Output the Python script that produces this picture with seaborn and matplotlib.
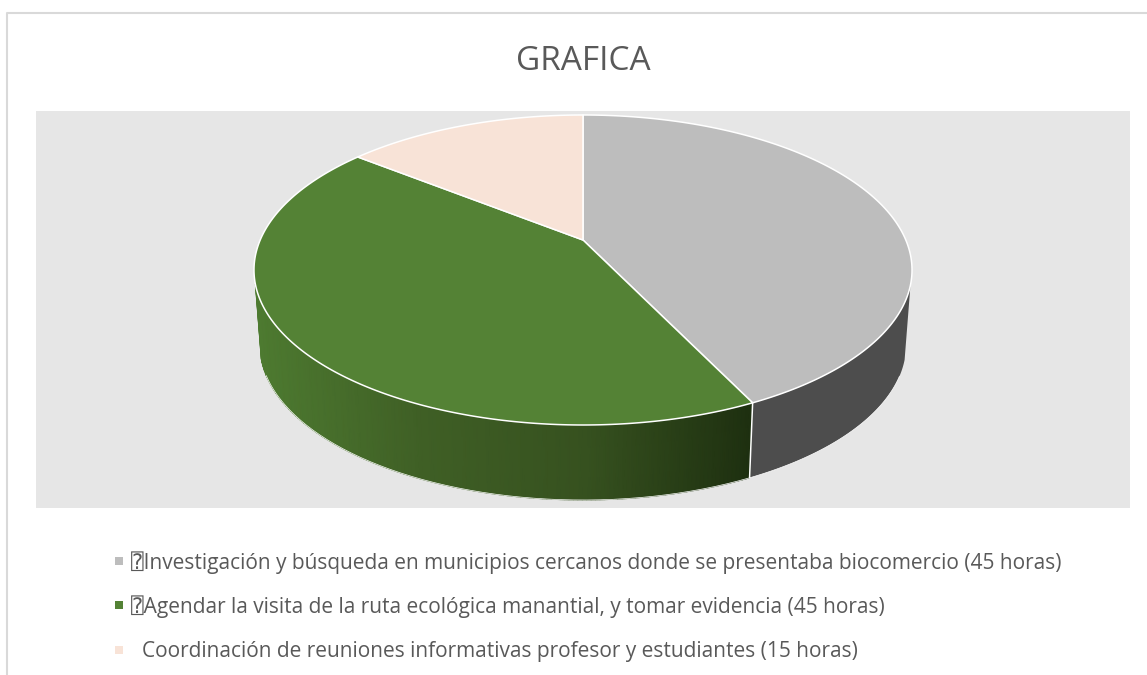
#!/usr/bin/env python3

import numpy as np
import seaborn as sns
import matplotlib.pyplot as plt
from matplotlib.patches import Polygon, Rectangle

title = "GRAFICA"
labels = ["\u2370Investigación y búsqueda en municipios cercanos donde se presentaba biocomercio (45 horas)",
          "\u2370Agendar la visita de la ruta ecológica manantial, y tomar evidencia (45 horas)",
          "Coordinación de reuniones informativas profesor y estudiantes (15 horas)"]
hours = [45, 45, 15]

top_colors = sns.color_palette(["#BDBDBD", "#548235", "#F8E3D7"])
gray_side = "#4D4D4D"
green_side = sns.blend_palette(["#4D7A30", "#3F5F25", "#36511F", "#1E3010"], as_cmap=True)

sns.set_theme(style="white")
plt.rcParams['font.family'] = ['Open Sans', 'DejaVu Sans', 'DejaVu Sans Mono', 'Noto Sans CJK SC']

W, H = 1147, 675
fig = plt.figure(figsize=(W / 100, H / 100), dpi=100)
ax = fig.add_axes([0, 0, 1, 1])
ax.set_xlim(0, W)
ax.set_ylim(H, 0)
ax.axis("off")

# Chart frame, only top and left are inside the picture, and plot area
ax.plot([6.5, 6.5, W], [H, 12.5, 12.5], color="#D9D9D9", lw=1.5, zorder=1)
ax.add_patch(Rectangle((36, 111), 1094, 397, color="#E6E6E6", lw=0, zorder=1))


def project(angle):
    # angle clockwise from 12 o'clock, tilted circle with perspective
    u, v = np.sin(angle), np.cos(angle)
    w = 1 + 0.1935 * v
    return 583 + 322.8 * u / w, 240 - 149.2 * v / w


def bottom(x, y):
    return 583 + (x - 583) * 0.982, y + 75


def side_angles(a0, a1):
    # only the part of the rim that faces the viewer
    angles = np.linspace(a0, a1, 240)
    return angles[project(angles)[1] >= 284]


edges = np.deg2rad(np.cumsum([0] + hours) / sum(hours) * 360)

# Rim of the gray slice
angles = side_angles(edges[0], edges[1])
xt, yt = project(angles)
xb, yb = bottom(xt, yt)
ax.add_patch(Polygon(np.r_[np.c_[xt, yt], np.c_[xb, yb][::-1]], fc=gray_side, ec="none", zorder=2))
ax.plot(xb[yb > 375], yb[yb > 375], color="white", lw=0.5, zorder=3)

# Rim of the green slice, shaded from left to right
angles = side_angles(edges[1], edges[2])
xt, yt = project(angles)
xb, yb = bottom(xt, yt)
shade = (xt - xt.min()) / (xt.max() - xt.min())
ax.pcolormesh(np.c_[xt, xb], np.c_[yt, yb], np.c_[shade, shade], cmap=green_side,
              shading="gouraud", vmin=0, vmax=1, zorder=2)
ax.plot(xb[yb > 375], yb[yb > 375], color="white", lw=0.5, zorder=3)

# Front corner between the two rims
x0, y0 = project(edges[1])
x1, y1 = bottom(x0, y0)
ax.plot([x0, x1], [y0, y1], color="white", lw=1.1, zorder=3)

# Top face
for a0, a1, col in zip(edges[:-1], edges[1:], top_colors):
    xt, yt = project(np.linspace(a0, a1, 200))
    pts = np.r_[[[583, 240]], np.c_[xt, yt]]
    ax.add_patch(Polygon(pts, closed=True, fc=col, ec="white", lw=1.1, joinstyle="round", zorder=4))

ax.text(583, 61, title, ha="center", va="center", fontsize=24, color="#595959", zorder=5)

# Legend
for y, label, col, x in zip([561, 605, 650], labels, top_colors, [131, 131, 142]):
    ax.add_patch(Rectangle((115, y - 4), 8, 8, color=col, lw=0, zorder=5))
    ax.text(x, y + 1.5, label, ha="left", va="center", fontsize=15, color="#595959", zorder=5)

plt.savefig("out.png", dpi=100)
